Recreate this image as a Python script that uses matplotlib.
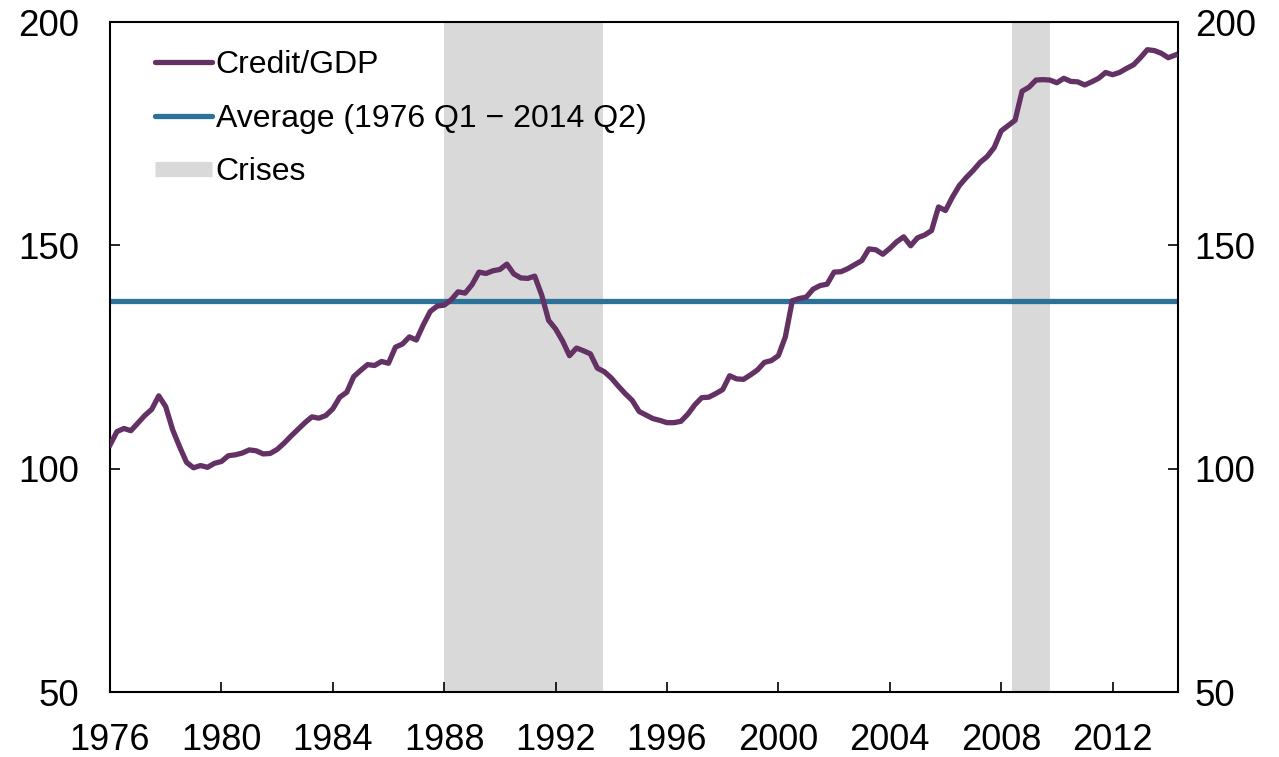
import numpy as np
import matplotlib
matplotlib.use("Agg")
import matplotlib.pyplot as plt
import matplotlib.transforms as mtransforms
from matplotlib.lines import Line2D

plt.rcParams['font.family'] = ['Liberation Sans', 'DejaVu Sans']

start_year = 1976
credit_gdp = [
    105.3, 108.3, 109.0, 108.5, 110.2, 111.9, 113.3, 116.3, 113.9, 108.7,
    104.9, 101.4, 100.2, 100.7, 100.3, 101.2, 101.6, 102.9, 103.1, 103.5,
    104.2, 104.0, 103.3, 103.4, 104.3, 105.7, 107.3, 108.8, 110.3, 111.6,
    111.3, 111.9, 113.4, 116.0, 117.1, 120.6, 122.0, 123.3, 123.1, 124.0,
    123.6, 127.2, 127.9, 129.5, 128.8, 132.2, 135.2, 136.4, 136.6, 137.8,
    139.6, 139.3, 141.2, 144.0, 143.7, 144.3, 144.6, 145.8, 143.6, 142.7,
    142.6, 143.1, 138.9, 133.2, 131.3, 128.6, 125.3, 127.0, 126.4, 125.7,
    122.5, 121.7, 120.3, 118.5, 116.8, 115.3, 112.8, 112.0, 111.2, 110.8,
    110.3, 110.3, 110.6, 112.2, 114.3, 115.9, 116.0, 116.8, 117.7, 120.8,
    120.1, 120.0, 121.0, 122.1, 123.8, 124.2, 125.3, 129.5, 137.6, 138.1,
    138.4, 140.2, 141.0, 141.3, 144.0, 144.1, 144.8, 145.7, 146.6, 149.2,
    149.0, 148.0, 149.3, 150.8, 151.9, 149.9, 151.7, 152.3, 153.3, 158.6,
    157.8, 160.8, 163.4, 165.2, 166.8, 168.6, 169.9, 171.9, 175.6, 176.8,
    178.0, 184.5, 185.4, 187.0, 187.1, 187.0, 186.4, 187.4, 186.7, 186.6,
    185.9, 186.6, 187.4, 188.7, 188.2, 188.7, 189.6, 190.4, 192.0, 193.8,
    193.6, 193.0, 192.0, 192.6,
]
average_value = 137.5
crises = [(1988.0, 1993.7), (2008.4, 2009.75)]
x_ticks = [1976, 1980, 1984, 1988, 1992, 1996, 2000, 2004, 2008, 2012]
y_ticks = [50, 100, 150, 200]
labels = ["Credit/GDP", "Average (1976 Q1 \u2212 2014 Q2)", "Crises"]

purple = "#633163"
blue = "#2c7298"
gray = "#d9d9d9"

x = start_year + np.arange(len(credit_gdp)) / 4.0

fig = plt.figure(figsize=(12.79, 7.57), dpi=100)
ax = fig.add_axes([110 / 1279, 1 - 692 / 757, (1178 - 110) / 1279, (692 - 22) / 757])

for a, b in crises:
    ax.axvspan(a, b, color=gray, lw=0, zorder=1)
ax.axhline(average_value, color=blue, lw=3.8, zorder=2)
ax.plot(x, credit_gdp, color=purple, lw=3.8, zorder=3, solid_joinstyle='round')

ax.set_xlim(1976, 2014.35)
ax.set_ylim(50, 200)
ax.set_xticks(x_ticks)
ax.set_yticks(y_ticks)
ax.tick_params(axis='x', direction='in', length=7, width=1.2, labelsize=26, pad=22)
ax.tick_params(axis='y', direction='in', length=7, width=1.2, labelsize=26.5, pad=22,
               left=True, right=True, labelleft=True, labelright=True)
for sp in ax.spines.values():
    sp.set_linewidth(1.5)

# right labels closer to the axis
offset = mtransforms.ScaledTranslation(-10 / 72, 0, fig.dpi_scale_trans)
for t in ax.yaxis.get_major_ticks():
    t.label2.set_transform(t.label2.get_transform() + offset)

handles = [
    Line2D([], [], color=purple, lw=3.8, solid_capstyle='round'),
    Line2D([], [], color=blue, lw=3.8, solid_capstyle='round'),
    Line2D([], [], color=gray, lw=11, solid_capstyle='butt'),
]
leg = ax.legend(handles, labels, loc='upper left', bbox_to_anchor=(0.042, 0.958),
                frameon=False, fontsize=23, handlelength=1.8, handletextpad=0.1,
                labelspacing=0.74, borderaxespad=0, borderpad=0)

fig.savefig("out.png", dpi=100)
